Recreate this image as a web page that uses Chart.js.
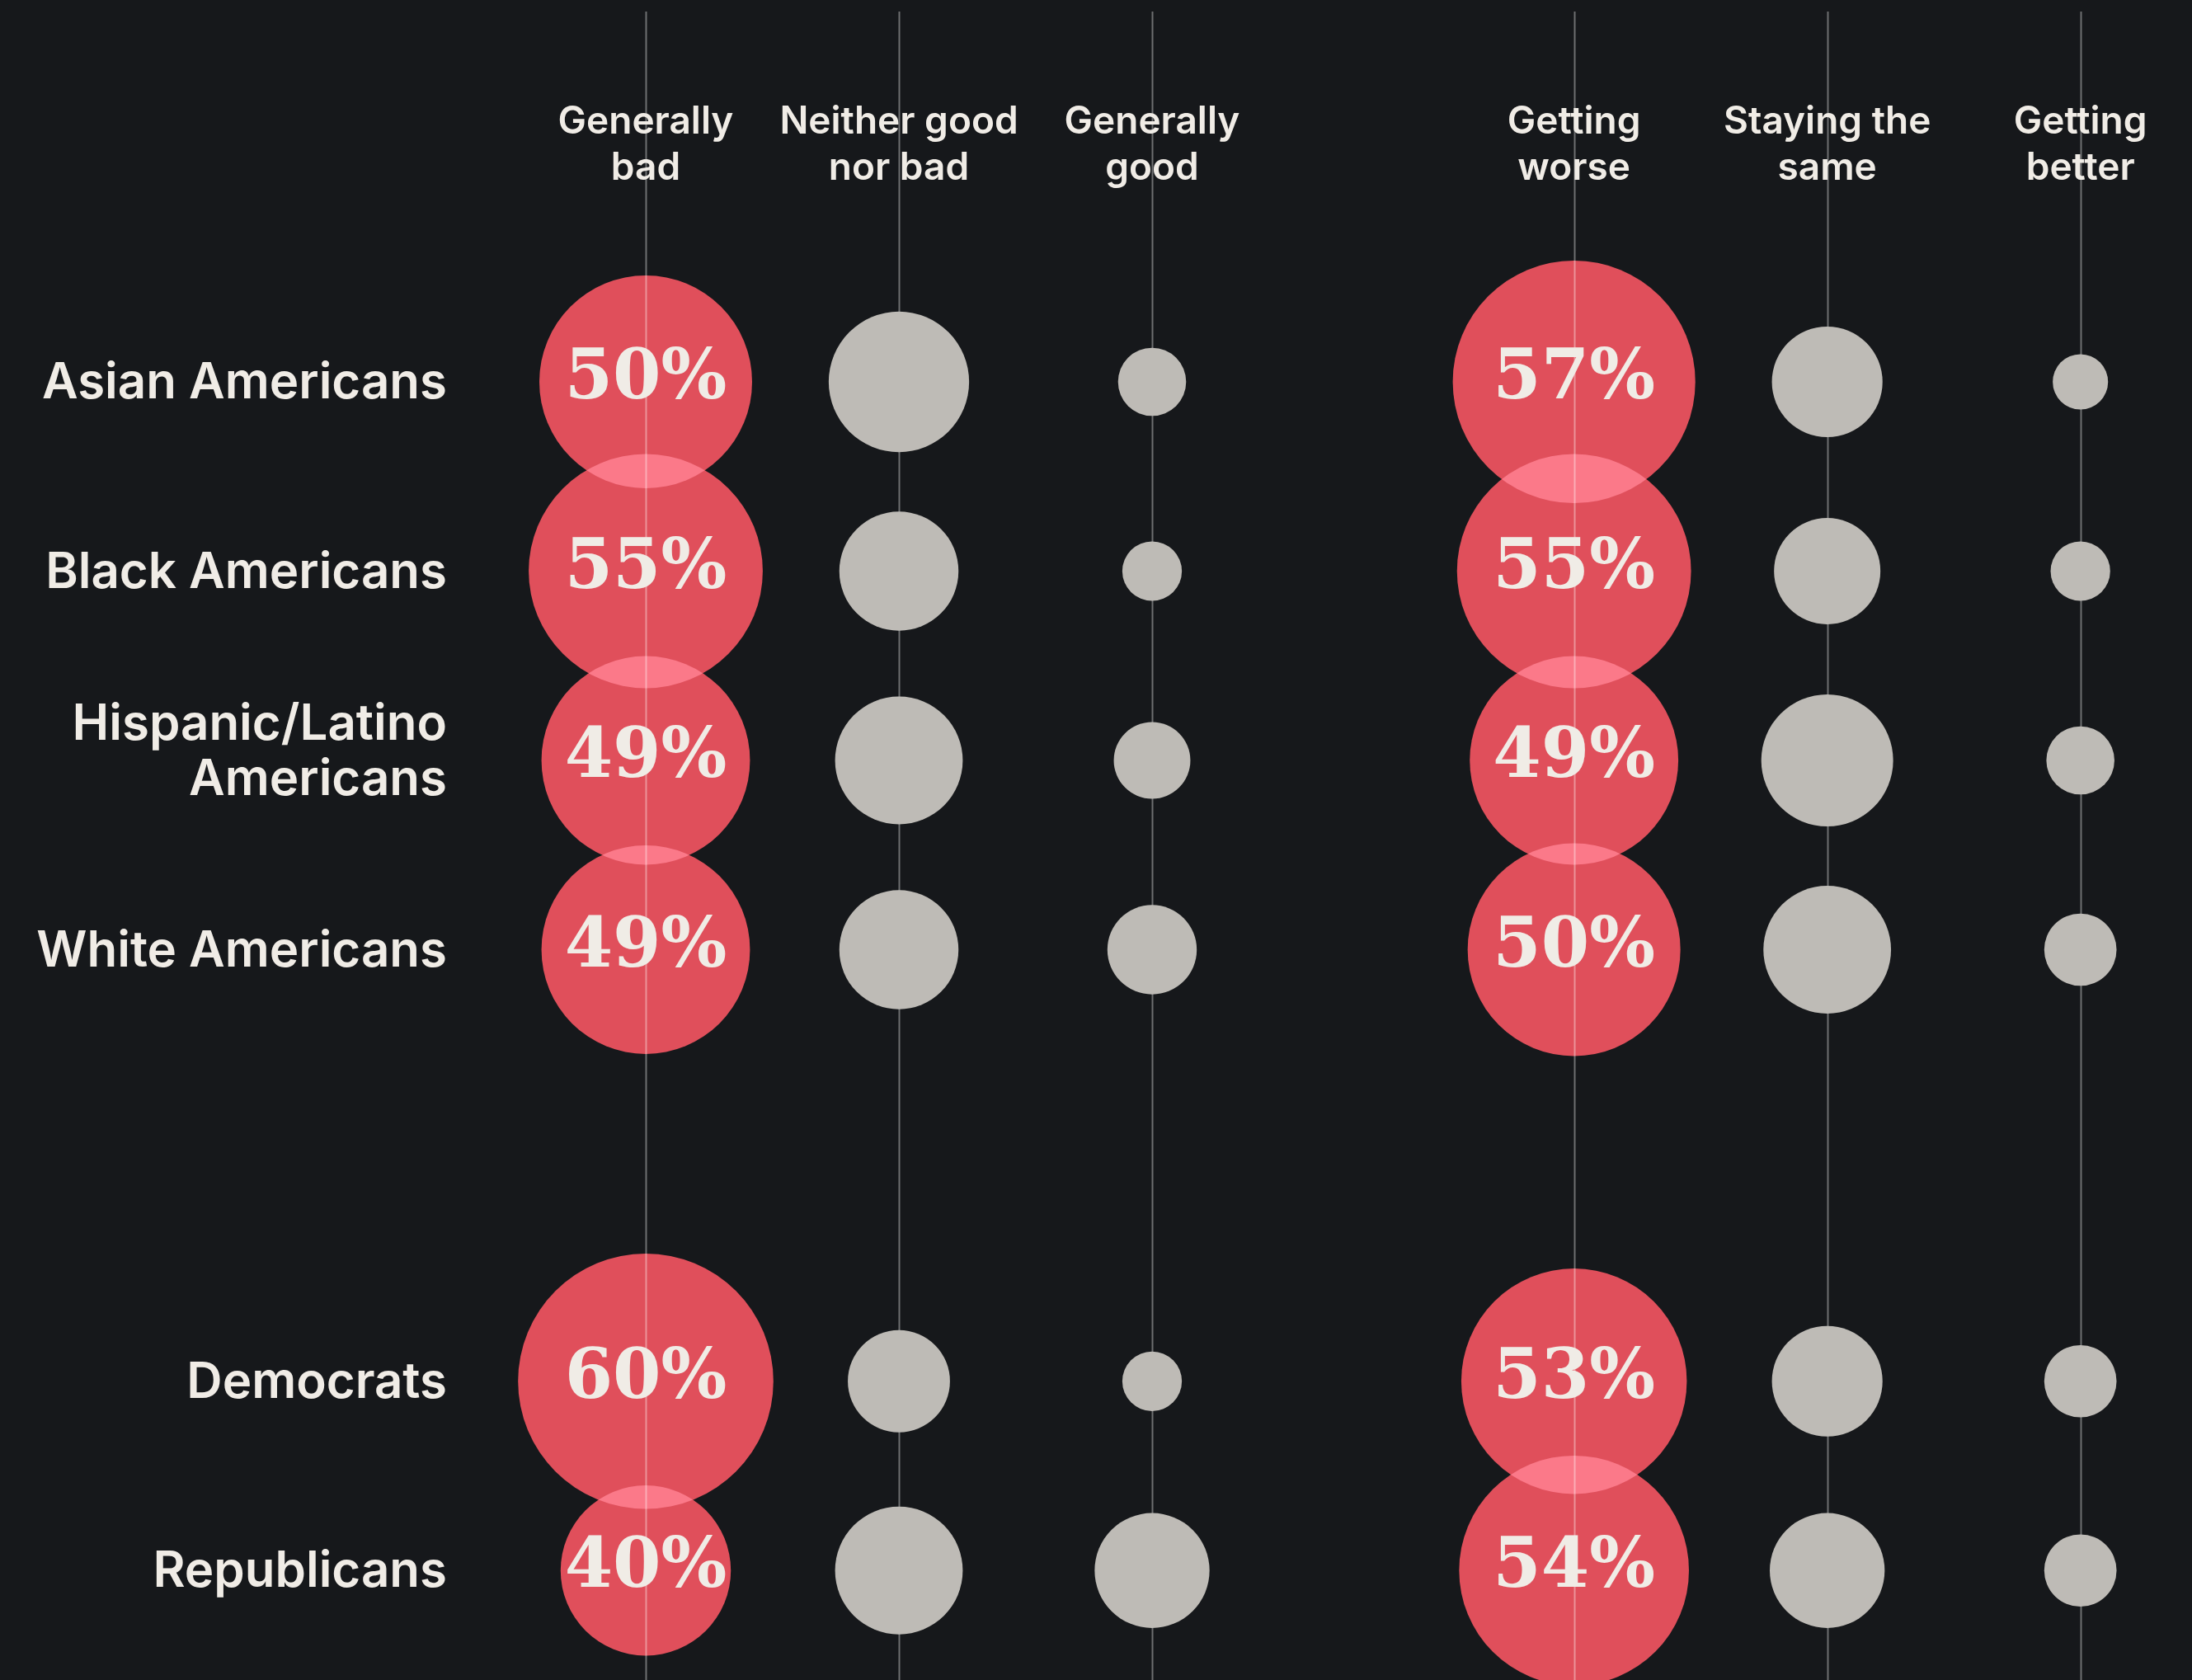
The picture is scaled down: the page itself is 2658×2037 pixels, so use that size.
<!DOCTYPE html>
<html>
<head>
<meta charset="utf-8">
<script src="https://cdn.jsdelivr.net/npm/chart.js@4.4.1/dist/chart.umd.min.js"></script>
<style>
	html, body { margin:0; padding:0; background:#16181b; }
	#wrap { width:2658px; height:2037px; }
</style>
</head>
<body>
<div id="wrap"><canvas id="myChart" width="2658" height="2037"></canvas></div>
<script>
	// 행(그룹) 라벨
	var groups = [['Asian Americans'], ['Black Americans'], ['Hispanic/Latino', 'Americans'],
	              ['White Americans'], ['Democrats'], ['Republicans']];

	// 열 제목 (두 질문, 각 3개 답)
	var headers = [['Generally', 'bad'], ['Neither good', 'nor bad'], ['Generally', 'good'],
	               ['Getting', 'worse'], ['Staying the', 'same'], ['Getting', 'better']];

	// 값 (%)
	var generallyBad  = [50, 55, 49, 49, 60, 40];
	var neither       = [33, 28, 30, 28, 24, 30];
	var generallyGood = [16, 14, 18, 21, 14, 27];
	var gettingWorse  = [57, 55, 49, 50, 53, 54];
	var stayingSame   = [26, 25, 31, 30, 26, 27];
	var gettingBetter = [13, 14, 16, 17, 17, 17];

	var series = [generallyBad, neither, generallyGood, gettingWorse, stayingSame, gettingBetter];
	var redCols = [0, 3];

	// 위치 (축 단위)
	function colPos(i){ return i < 3 ? i : i + 2/3; }
	function rowPos(i){ return i < 4 ? i : i + 1.28; }

	var COL_W = 307, ROW_H = 229.5, R_PER_PCT = 2.58;
	var TEXT = '#f0ece6';

	var redData = [], greyData = [];
	series.forEach(function(vals, c){
		vals.forEach(function(v, r){
			var pt = { x: colPos(c), y: rowPos(r), v: v };
			if(redCols.indexOf(c) >= 0) redData.push(pt); else greyData.push(pt);
		});
	});

	var bgPlugin = {
		id: 'bg',
		beforeDraw: function(chart){
			var ctx = chart.ctx;
			ctx.save();
			ctx.fillStyle = '#16181b';
			ctx.fillRect(0, 0, chart.width, chart.height);
			ctx.restore();
		}
	};

	// 빨간 원: screen 합성 (겹치는 부분 밝게), 회색 원 전에 세로선
	var layerPlugin = {
		id: 'layers',
		beforeDatasetDraw: function(chart, args){
			var ctx = chart.ctx;
			if(args.index === 0){
				ctx.save();
				ctx.globalCompositeOperation = 'screen';
			}
			if(args.index === 1){
				var xs = chart.scales.x;
				ctx.save();
				ctx.strokeStyle = 'rgba(255,255,255,0.38)';
				ctx.lineWidth = 2;
				headers.forEach(function(h, c){
					var px = Math.round(xs.getPixelForValue(colPos(c))) + 0.5;
					ctx.beginPath();
					ctx.moveTo(px, 14);
					ctx.lineTo(px, chart.height);
					ctx.stroke();
				});
				ctx.restore();
			}
		},
		afterDatasetDraw: function(chart, args){
			if(args.index === 0) chart.ctx.restore();
		}
	};

	var textPlugin = {
		id: 'texts',
		afterDraw: function(chart){
			var ctx = chart.ctx;
			var xs = chart.scales.x, ys = chart.scales.y;
			ctx.save();
			ctx.fillStyle = TEXT;
			ctx.textBaseline = 'alphabetic';

			// 열 제목
			ctx.font = '600 46px Inter';
			ctx.textAlign = 'center';
			headers.forEach(function(h, c){
				var px = xs.getPixelForValue(colPos(c));
				h.forEach(function(line, k){
					ctx.fillText(line, px, 162 + k * 56);
				});
			});

			// 행 라벨
			ctx.font = '600 60px Inter';
			ctx.textAlign = 'right';
			groups.forEach(function(g, r){
				var py = ys.getPixelForValue(rowPos(r));
				g.forEach(function(line, k){
					ctx.fillText(line, 542, py + 20 - (g.length - 1) * 45 + k * 67);
				});
			});

			// 빨간 원 안의 %
			ctx.font = 'bold 84px "DejaVu Serif"';
			ctx.textAlign = 'center';
			var meta = chart.getDatasetMeta(0);
			meta.data.forEach(function(el, i){
				ctx.fillText(redData[i].v + '%', el.x, el.y + 20);
			});
			ctx.restore();
		}
	};

	new Chart('myChart', {
		type: 'bubble',
		data: {
			datasets: [{
				label: 'highlight',
				data: redData,
				backgroundColor: 'rgb(221,61,72)',
				borderWidth: 0,
				order: 2,
				clip: false
			}, {
				label: 'other',
				data: greyData,
				backgroundColor: '#bebbb6',
				borderWidth: 0,
				order: 1,
				clip: false
			}]
		},
		options: {
			responsive: false,
			animation: false,
			events: [],
			layout: { padding: 0, autoPadding: false },
			elements: {
				point: {
					radius: function(ctx){ return ctx.raw ? ctx.raw.v * R_PER_PCT : 0; },
					hoverRadius: 0
				}
			},
			scales: {
				x: { type: 'linear', display: false, min: -783 / COL_W, max: (2658 - 783) / COL_W },
				y: { type: 'linear', display: false, reverse: true, min: -463 / ROW_H, max: (2037 - 463) / ROW_H }
			},
			plugins: {
				legend: { display: false },
				tooltip: { enabled: false }
			}
		},
		plugins: [bgPlugin, layerPlugin, textPlugin]
	});
</script>
</body>
</html>
